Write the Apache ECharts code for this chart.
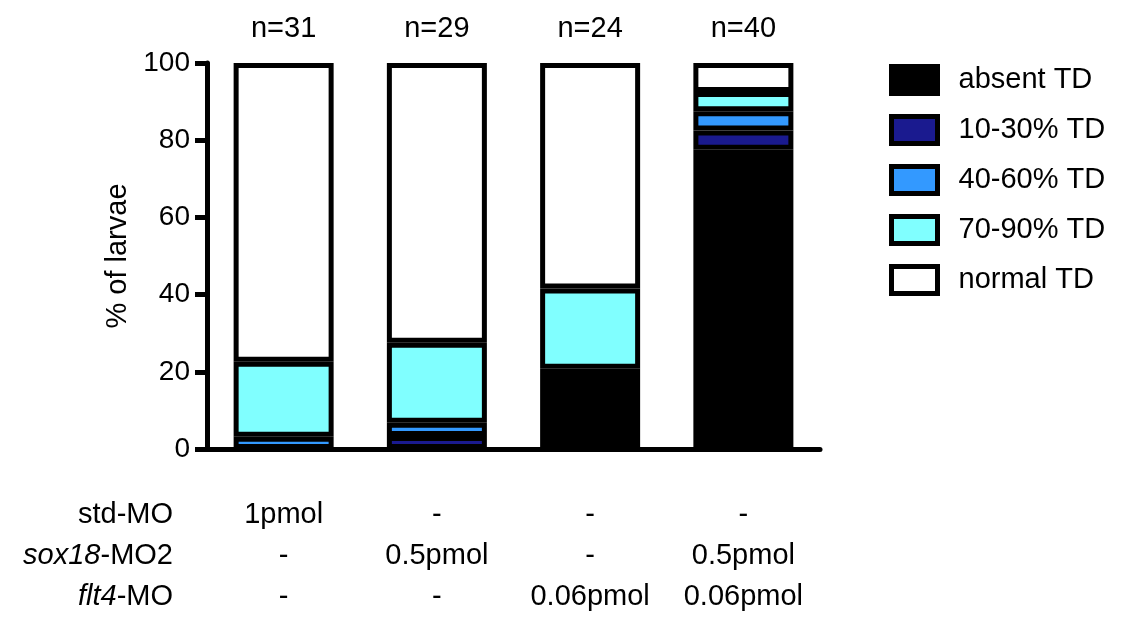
<!DOCTYPE html>
<html>
<head>
<meta charset="utf-8">
<title>TD phenotype by morpholino</title>
<script src="https://cdn.jsdelivr.net/npm/echarts@6/dist/echarts.min.js"></script>
<style>
  html, body { margin: 0; padding: 0; background: #fff; }
  #chart { width: 1122px; height: 619px; }
</style>
</head>
<body>
<div id="chart"></div>
<script>
// groups and their labels
const nLabels = ['n=31', 'n=29', 'n=24', 'n=40'];
const rowNames = ['std-MO', '{i|sox18}-MO2', '{i|flt4}-MO'];
const stdMO = ['1pmol', '-', '-', '-'];
const sox18MO2 = ['-', '0.5pmol', '-', '0.5pmol'];
const flt4MO = ['-', '-', '0.06pmol', '0.06pmol'];

// % of larvae per phenotype (stacked bottom-up)
const absentTD = [0, 0, 20.8, 77.5];
const td10to30 = [0, 3.4, 0, 5];
const td40to60 = [3.2, 3.4, 0, 5];
const td70to90 = [19.4, 20.7, 20.8, 5];
const normalTD = [77.4, 72.5, 58.4, 7.5];

const yTicks = [0, 20, 40, 60, 80, 100];

const FONT = '"Liberation Sans", Arial, Helvetica, sans-serif';
const ROW_TOP = 494;
const ROW_H = 41;

const chart = echarts.init(document.getElementById('chart'), null, { renderer: 'canvas' });

const bottomLabels = stdMO.map((s, i) => [s, sox18MO2[i], flt4MO[i]].join('\n'));

function stackSeries(name, data, color) {
  return {
    name: name,
    type: 'bar',
    stack: 'td',
    // empty segments are left out so they don't draw a border line
    data: data.map(v => (v === 0 ? '-' : v)),
    barWidth: 100,
    itemStyle: { color: color, borderColor: '#000', borderWidth: 5 },
    emphasis: { disabled: true },
    animation: false
  };
}

const option = {
  backgroundColor: '#fff',
  animation: false,
  grid: { left: 207, right: 302, top: 63, bottom: 170, containLabel: false },
  legend: {
    orient: 'vertical',
    left: 884,
    top: 59,
    itemWidth: 46,
    itemHeight: 27,
    itemGap: 18,
    icon: 'rect',
    itemStyle: { borderWidth: 5, borderColor: '#000' },
    textStyle: { fontSize: 29, fontFamily: FONT, color: '#000', padding: [0, 0, 0, 16] },
    data: ['absent TD', '10-30% TD', '40-60% TD', '70-90% TD', 'normal TD']
  },
  xAxis: [
    {
      type: 'category',
      data: bottomLabels,
      position: 'bottom',
      axisLine: { show: true, lineStyle: { color: '#000', width: 5 } },
      axisTick: { show: false },
      axisLabel: {
        margin: ROW_TOP - 449,
        interval: 0,
        fontSize: 29,
        lineHeight: ROW_H,
        fontFamily: FONT,
        color: '#000',
        verticalAlign: 'top'
      }
    },
    {
      type: 'category',
      data: nLabels,
      position: 'top',
      axisLine: { show: false },
      axisTick: { show: false },
      axisLabel: { margin: 20, fontSize: 29, fontFamily: FONT, color: '#000' }
    }
  ],
  yAxis: {
    type: 'value',
    min: yTicks[0],
    max: yTicks[yTicks.length - 1],
    interval: 20,
    name: '% of larvae',
    nameLocation: 'middle',
    nameGap: 72,
    nameRotate: 90,
    nameTextStyle: { fontSize: 29, fontFamily: FONT, color: '#000' },
    axisLine: { show: true, lineStyle: { color: '#000', width: 5 } },
    axisTick: { show: true, length: 12, lineStyle: { color: '#000', width: 5 } },
    axisLabel: { margin: 17, fontSize: 28, fontFamily: FONT, color: '#000' },
    splitLine: { show: false }
  },
  series: [
    stackSeries('absent TD', absentTD, '#000000'),
    stackSeries('10-30% TD', td10to30, '#1a1a8f'),
    stackSeries('40-60% TD', td40to60, '#3399ff'),
    stackSeries('70-90% TD', td70to90, '#80ffff'),
    stackSeries('normal TD', normalTD, '#ffffff')
  ],
  graphic: rowNames.map((t, i) => ({
    type: 'text',
    right: 1122 - 173,
    top: ROW_TOP + i * ROW_H,
    style: {
      text: t,
      font: '29px ' + FONT,
      fill: '#000',
      lineHeight: ROW_H,
      rich: { i: { fontStyle: 'italic', fontSize: 29, fontFamily: FONT, lineHeight: ROW_H } }
    }
  }))
};

chart.setOption(option);
</script>
</body>
</html>
